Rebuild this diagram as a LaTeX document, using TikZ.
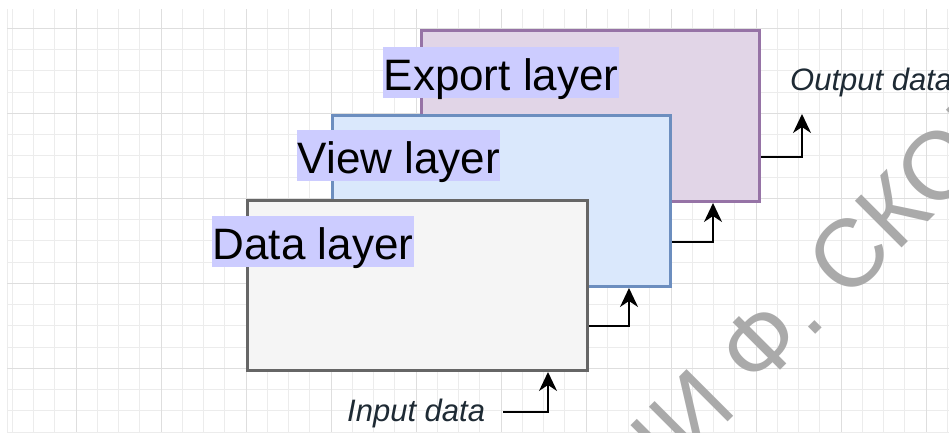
\documentclass[tikz,border=0pt]{standalone}
\usepackage{fontspec}
\setmainfont{Liberation Sans}
\usetikzlibrary{arrows.meta,calc}
\definecolor{gridminor}{RGB}{236,236,236}
\definecolor{gridmajor}{RGB}{222,222,222}
\definecolor{expfill}{HTML}{E1D5E7}
\definecolor{expdraw}{HTML}{9673A6}
\definecolor{viewfill}{HTML}{DAE8FC}
\definecolor{viewdraw}{HTML}{6C8EBF}
\definecolor{datafill}{HTML}{F5F5F5}
\definecolor{datadraw}{HTML}{666666}
\definecolor{lblbg}{HTML}{CCCCFF}
\definecolor{notetext}{HTML}{1E2A34}
\definecolor{wmgray}{RGB}{170,170,170}
\tikzset{
  layerbox/.style={rectangle, line width=3pt, inner sep=0pt, anchor=north west},
  lbl/.style={rectangle, fill=lblbg, anchor=north west, inner xsep=0.5pt, inner ysep=0pt,
    text height=43pt, text depth=8pt, font=\fontsize{44}{50}\selectfont, text=black},
  note/.style={inner sep=0pt, anchor=base west, font=\fontsize{31}{36}\selectfont\itshape, text=notetext},
  arr/.style={draw=black, line width=2pt, -{Stealth[length=19pt,width=18pt,inset=6pt]}},
  wm/.style={rotate=45, inner sep=0pt, font=\fontsize{96}{96}\selectfont, text=wmgray}
}
\begin{document}
\begin{tikzpicture}[x=1pt,y=-1pt]
\useasboundingbox (0,0) rectangle (949,432);
\clip (0,0) rectangle (949,432);
\fill[white] (0,0) rectangle (949,432);
% grid
\foreach \k in {0,...,44} {
  \pgfmathsetmacro\gx{12.25+21.25*\k}
  \draw[gridminor, line width=1pt] (\gx,9) -- (\gx,432);
}
\foreach \k in {0,...,19} {
  \pgfmathsetmacro\gy{28.3+21.25*\k}
  \draw[gridminor, line width=1pt] (7,\gy) -- (949,\gy);
}
\draw[gridminor, line width=1pt] (7,9) -- (7,432);
\foreach \k in {0,...,10} {
  \pgfmathsetmacro\gx{76+85*\k}
  \draw[gridmajor, line width=1pt] (\gx,9) -- (\gx,432);
}
\foreach \k in {0,...,4} {
  \pgfmathsetmacro\gy{28.3+85*\k}
  \draw[gridmajor, line width=1pt] (7,\gy) -- (949,\gy);
}
% layers
\node[layerbox, fill=expfill, draw=expdraw, minimum width=338pt, minimum height=171pt] (export) at (420,29) {};
\node[lbl] (exportlbl) at (383,47) {Export layer};
\node[layerbox, fill=viewfill, draw=viewdraw, minimum width=338pt, minimum height=171pt] (view) at (331,114) {};
\node[lbl] (viewlbl) at (297,130) {View layer};
\node[layerbox, fill=datafill, draw=datadraw, minimum width=340pt, minimum height=170pt] (data) at (246,199) {};
\node[lbl] (datalbl) at (212,216) {Data layer};
% notes
\node[note] (inlbl) at (347,421.7) {Input data};
\node[note] (outlbl) at (790,90) {Output data};
% connectors
\coordinate (inS) at (503,412);
\coordinate (outE) at (802,114);
\draw[arr] (inS) -| (data.south -| 548,0);
\draw[arr] (data.east |- 0,326) -| (view.south -| 629,0);
\draw[arr] (view.east |- 0,241.7) -| (export.south -| 713,0);
\draw[arr] (export.east |- 0,156.7) -| (outE);
% watermark
\node[wm, anchor=base west] (wmb) at (690,460) {И Ф. СКОРИНЫ};
\node[wm, anchor=base east] (wma) at (690,460) {ИМЕН};
\end{tikzpicture}
\end{document}
